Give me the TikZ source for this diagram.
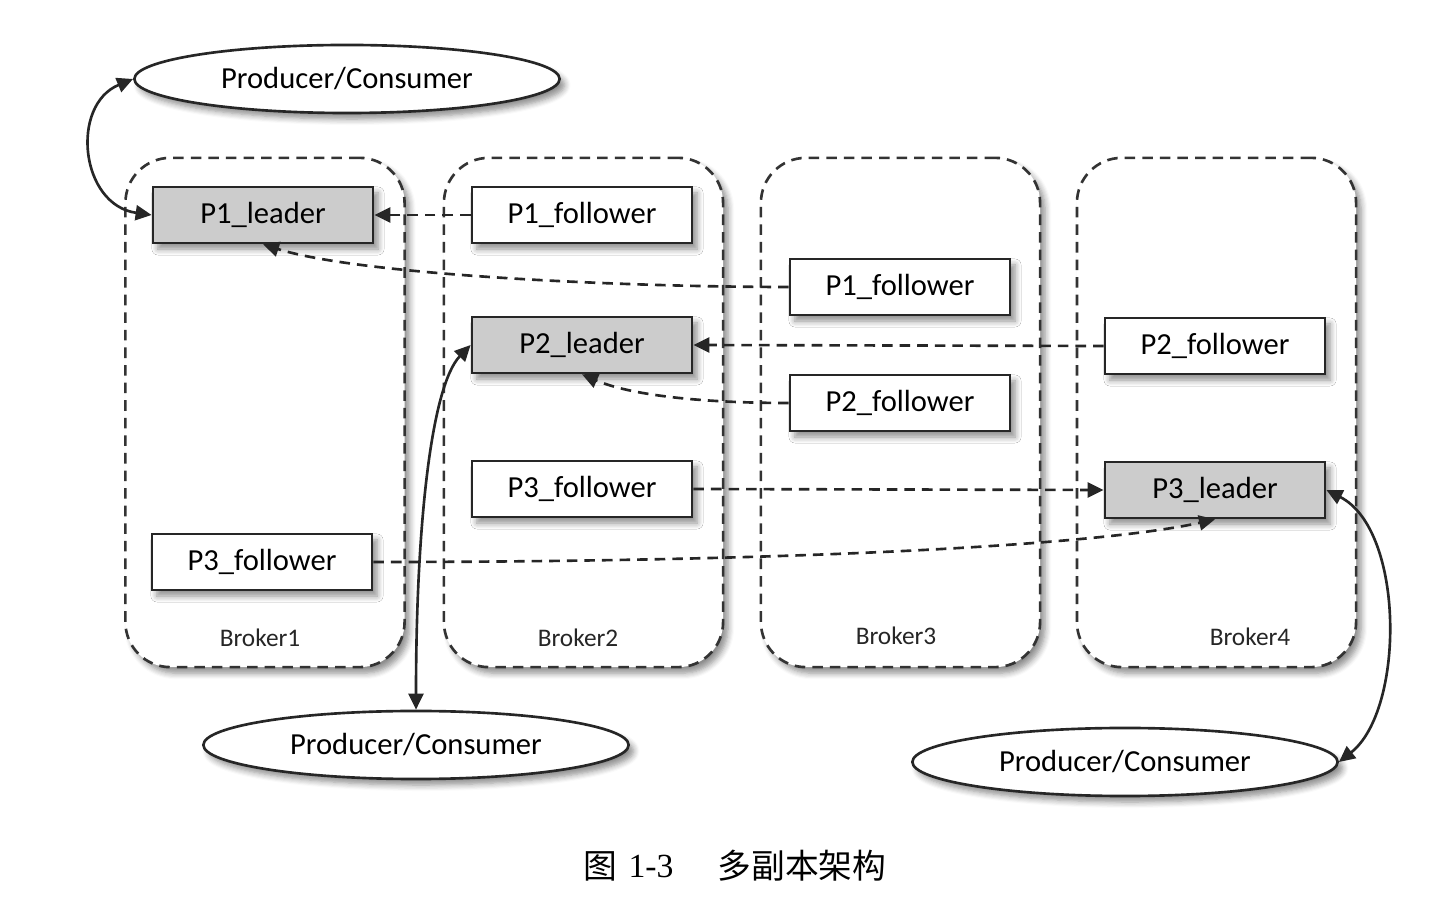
\documentclass[tikz,border=0pt]{standalone}
\usepackage{fontspec}
\setmainfont{Carlito}
\newfontfamily\cjk{Noto Sans CJK SC}
\newfontfamily\capserif{Liberation Serif}
\usetikzlibrary{arrows.meta,shadows.blur,shapes.geometric}

\begin{document}
\begin{tikzpicture}[x=0.01cm,y=-0.01cm,
  shd/.style={blur shadow={shadow blur steps=6, shadow xshift=0.5mm, shadow yshift=-0.6mm, shadow opacity=45, shadow blur radius=0.6mm}},
  box/.style={draw=black!85, line width=0.75pt, minimum width=2.2cm, minimum height=0.56cm, inner sep=0, fill=white, font=\fontsize{8.7}{10}\selectfont, shd},
  leader/.style={box, fill=black!20},
  broker/.style={draw=black!80, dashed, dash pattern=on 3pt off 2pt, line width=0.75pt, rounded corners=0.45cm, minimum width=2.79cm, minimum height=5.09cm, inner sep=0, fill=white, shd},
  brokerlabel/.style={font=\fontsize{7.2}{8}\selectfont, text=black!85},
  pc/.style={ellipse, draw=black!85, line width=0.75pt, fill=white, inner sep=0, minimum width=4.25cm, minimum height=0.68cm, font=\fontsize{8.7}{10}\selectfont, shd},
  link/.style={draw=black!85, dash pattern=on 3pt off 2pt, line width=0.75pt, -{Triangle[length=1.6mm,width=1.5mm]}},
  dual/.style={draw=black!85, line width=0.75pt, {Triangle[length=1.6mm,width=1.5mm]}-{Triangle[length=1.6mm,width=1.5mm]}},
  captxt/.style={font=\fontsize{9.6}{11}\selectfont, inner sep=0}
]
\useasboundingbox (0,0) rectangle (1436,916);

% brokers
\node[broker] (b1) at (265,412.5) {};
\node[broker] (b2) at (583.5,412.5) {};
\node[broker] (b3) at (900.5,412.5) {};
\node[broker] (b4) at (1216.5,412.5) {};
\node[brokerlabel] (b1l) at (260,638) {Broker1};
\node[brokerlabel] (b2l) at (578,638) {Broker2};
\node[brokerlabel] (b3l) at (896,636) {Broker3};
\node[brokerlabel] (b4l) at (1250,637) {Broker4};

% replicas
\node[leader] (p1l) at (263,215) {P1\_leader};
\node[box] (p1f2) at (582,215) {P1\_follower};
\node[box] (p1f3) at (900,287) {P1\_follower};
\node[leader] (p2l) at (582,345) {P2\_leader};
\node[box] (p2f4) at (1215,346) {P2\_follower};
\node[box] (p2f3) at (900,403) {P2\_follower};
\node[box] (p3f2) at (582,489) {P3\_follower};
\node[leader] (p3l) at (1215,490) {P3\_leader};
\node[box] (p3f1) at (262,562) {P3\_follower};

% clients
\node[pc] (pc1) at (347,79) {Producer/Consumer};
\node[pc] (pc2) at (416,745) {Producer/Consumer};
\node[pc] (pc3) at (1125,762) {Producer/Consumer};

% replication links
\draw[link] (p1f2.west) -- (p1l.east);
\draw[link] (p1f3.west) .. controls (620,287) and (360,275) .. (p1l.south);
\draw[link] (p2f4.west) -- (p2l.east);
\draw[link] (p2f3.west) .. controls (700,403) and (630,395) .. (p2l.south);
\draw[link] (p3f2.east) -- (p3l.west);
\draw[link] (p3f1.east) .. controls (800,562) and (1100,545) .. (p3l.south);

% client links
\draw[dual] (pc1.west) .. controls (70,105) and (80,205) .. (p1l.west);
\draw[dual] (pc2.north) .. controls (416,520) and (432,385) .. (p2l.west);
\draw[dual] (pc3.east) .. controls (1405,710) and (1405,530) .. (p3l.east);

% caption
\node[captxt] (c1) at (600,866) {\cjk 图};
\node[captxt] (c2) at (651,866) {\capserif 1-3};
\node[captxt] (c3) at (802,866) {\cjk 多副本架构};
\end{tikzpicture}
\end{document}
